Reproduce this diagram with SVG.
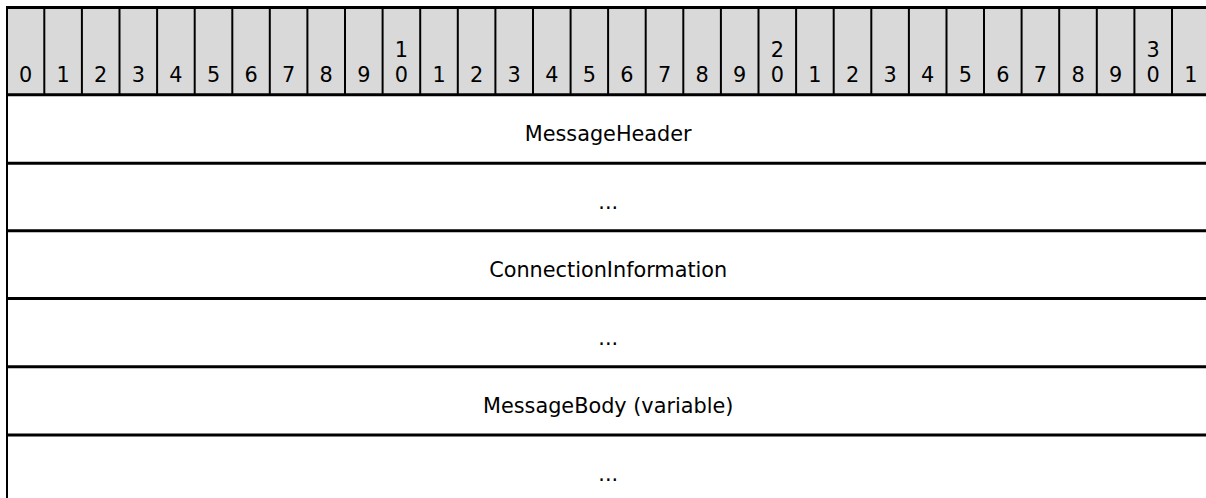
<svg xmlns="http://www.w3.org/2000/svg" width="1206" height="498" viewBox="0 0 1206 498">
<style>
.hdr{fill:#d9d9d9;stroke:none}
.h{stroke:#000;stroke-width:3;fill:none}
.v{stroke:#000;stroke-width:2;fill:none}
text{font-family:"DejaVu Sans","Verdana",sans-serif;font-size:20.8px;fill:#000;text-anchor:middle}
</style>
<g id="bit-header">
<rect class="hdr" x="7" y="7.5" width="1203" height="87.2"/>
<g id="bit-labels">
<text x="25.5" y="81.5">0</text>
<text x="63.1" y="81.5">1</text>
<text x="100.7" y="81.5">2</text>
<text x="138.3" y="81.5">3</text>
<text x="175.9" y="81.5">4</text>
<text x="213.5" y="81.5">5</text>
<text x="251.0" y="81.5">6</text>
<text x="288.6" y="81.5">7</text>
<text x="326.2" y="81.5">8</text>
<text x="363.8" y="81.5">9</text>
<text x="401.4" y="56.5">1</text><text x="401.4" y="81.5">0</text>
<text x="439.0" y="81.5">1</text>
<text x="476.6" y="81.5">2</text>
<text x="514.2" y="81.5">3</text>
<text x="551.8" y="81.5">4</text>
<text x="589.4" y="81.5">5</text>
<text x="626.9" y="81.5">6</text>
<text x="664.5" y="81.5">7</text>
<text x="702.1" y="81.5">8</text>
<text x="739.7" y="81.5">9</text>
<text x="777.3" y="56.5">2</text><text x="777.3" y="81.5">0</text>
<text x="814.9" y="81.5">1</text>
<text x="852.5" y="81.5">2</text>
<text x="890.1" y="81.5">3</text>
<text x="927.7" y="81.5">4</text>
<text x="965.3" y="81.5">5</text>
<text x="1002.8" y="81.5">6</text>
<text x="1040.4" y="81.5">7</text>
<text x="1078.0" y="81.5">8</text>
<text x="1115.6" y="81.5">9</text>
<text x="1153.2" y="56.5">3</text><text x="1153.2" y="81.5">0</text>
<text x="1190.8" y="81.5">1</text>
</g>
<g id="bit-dividers">
<line class="v" x1="44.3" y1="7.5" x2="44.3" y2="94.7"/>
<line class="v" x1="81.9" y1="7.5" x2="81.9" y2="94.7"/>
<line class="v" x1="119.5" y1="7.5" x2="119.5" y2="94.7"/>
<line class="v" x1="157.1" y1="7.5" x2="157.1" y2="94.7"/>
<line class="v" x1="194.7" y1="7.5" x2="194.7" y2="94.7"/>
<line class="v" x1="232.3" y1="7.5" x2="232.3" y2="94.7"/>
<line class="v" x1="269.8" y1="7.5" x2="269.8" y2="94.7"/>
<line class="v" x1="307.4" y1="7.5" x2="307.4" y2="94.7"/>
<line class="v" x1="345.0" y1="7.5" x2="345.0" y2="94.7"/>
<line class="v" x1="382.6" y1="7.5" x2="382.6" y2="94.7"/>
<line class="v" x1="420.2" y1="7.5" x2="420.2" y2="94.7"/>
<line class="v" x1="457.8" y1="7.5" x2="457.8" y2="94.7"/>
<line class="v" x1="495.4" y1="7.5" x2="495.4" y2="94.7"/>
<line class="v" x1="533.0" y1="7.5" x2="533.0" y2="94.7"/>
<line class="v" x1="570.6" y1="7.5" x2="570.6" y2="94.7"/>
<line class="v" x1="608.1" y1="7.5" x2="608.1" y2="94.7"/>
<line class="v" x1="645.7" y1="7.5" x2="645.7" y2="94.7"/>
<line class="v" x1="683.3" y1="7.5" x2="683.3" y2="94.7"/>
<line class="v" x1="720.9" y1="7.5" x2="720.9" y2="94.7"/>
<line class="v" x1="758.5" y1="7.5" x2="758.5" y2="94.7"/>
<line class="v" x1="796.1" y1="7.5" x2="796.1" y2="94.7"/>
<line class="v" x1="833.7" y1="7.5" x2="833.7" y2="94.7"/>
<line class="v" x1="871.3" y1="7.5" x2="871.3" y2="94.7"/>
<line class="v" x1="908.9" y1="7.5" x2="908.9" y2="94.7"/>
<line class="v" x1="946.5" y1="7.5" x2="946.5" y2="94.7"/>
<line class="v" x1="984.0" y1="7.5" x2="984.0" y2="94.7"/>
<line class="v" x1="1021.6" y1="7.5" x2="1021.6" y2="94.7"/>
<line class="v" x1="1059.2" y1="7.5" x2="1059.2" y2="94.7"/>
<line class="v" x1="1096.8" y1="7.5" x2="1096.8" y2="94.7"/>
<line class="v" x1="1134.4" y1="7.5" x2="1134.4" y2="94.7"/>
<line class="v" x1="1172.0" y1="7.5" x2="1172.0" y2="94.7"/>
</g>
</g>
<g id="frame">
<line class="h" x1="6" y1="7.5" x2="1210" y2="7.5"/>
<line class="v" x1="7" y1="6" x2="7" y2="498"/>
<line class="v" x1="1209.6" y1="6" x2="1209.6" y2="498"/>
</g>
<g id="field-MessageHeader">
<line class="h" x1="6" y1="94.7" x2="1210" y2="94.7"/>
<text x="608.2" y="141">MessageHeader</text>
</g>
<g id="field-MessageHeader-cont">
<line class="h" x1="6" y1="163.2" x2="1210" y2="163.2"/>
<text x="608.2" y="209">...</text>
</g>
<g id="field-ConnectionInformation">
<line class="h" x1="6" y1="230.8" x2="1210" y2="230.8"/>
<text x="608.2" y="277">ConnectionInformation</text>
</g>
<g id="field-ConnectionInformation-cont">
<line class="h" x1="6" y1="298.4" x2="1210" y2="298.4"/>
<text x="608.2" y="345">...</text>
</g>
<g id="field-MessageBody">
<line class="h" x1="6" y1="366.7" x2="1210" y2="366.7"/>
<text x="608.2" y="413">MessageBody (variable)</text>
</g>
<g id="field-MessageBody-cont">
<line class="h" x1="6" y1="435" x2="1210" y2="435"/>
<text x="608.2" y="481">...</text>
</g>
</svg>
